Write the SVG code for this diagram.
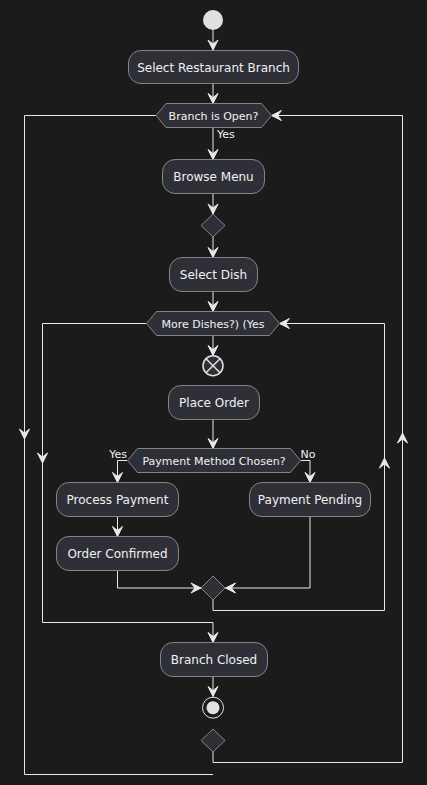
<svg xmlns="http://www.w3.org/2000/svg" xmlns:xlink="http://www.w3.org/1999/xlink" width="427" height="785" viewBox="0 0 427 785">
<style>
.bg{fill:#1b1b1b}
.box{fill:#2f3037;stroke:#858585;stroke-width:1}
.dia{fill:#2f3037;stroke:#858585;stroke-width:1}
.t{font-family:"DejaVu Sans",sans-serif;font-size:12px;fill:#f0f0f0;text-anchor:middle}
.ts{font-family:"DejaVu Sans",sans-serif;font-size:11px;fill:#f0f0f0;text-anchor:middle}
.lbl{font-family:"DejaVu Sans",sans-serif;font-size:11px;fill:#f0f0f0}
.ln{fill:none;stroke:#e8e8e8;stroke-width:1}
.ah{fill:#e8e8e8;stroke:#e8e8e8;stroke-width:1;stroke-linejoin:miter}
</style>
<defs>
<path id="ah" d="M0,0 L-5,-10 L0,-6 L5,-10 Z"/>
</defs>
<rect class="bg" x="0" y="0" width="427" height="785"/>
<g id="connectors">
<path class="ln" d="M213,30 V50"/>
<path class="ln" d="M213,83.5 V103.5"/>
<path class="ln" d="M213,127.5 V159.5"/>
<path class="ln" d="M213,193.5 V214"/>
<path class="ln" d="M213,237 V257.5"/>
<path class="ln" d="M213,291.5 V311.5"/>
<path class="ln" d="M213,335.5 V355.5"/>
<path class="ln" d="M213,419.5 V448.5"/>
<path class="ln" d="M127.5,460.5 H117.5 V482.5"/>
<path class="ln" d="M300.5,460.5 H310 V482.5"/>
<path class="ln" d="M117.5,516.5 V536.5"/>
<path class="ln" d="M117.5,570.5 V588 H201"/>
<path class="ln" d="M310,516.5 V588 H225.5"/>
<path class="ln" d="M213,600 V610.5 H384.5 V323.5 H279.5"/>
<path class="ln" d="M146.5,323.5 H42.5 V622.5 H213 V642.5"/>
<path class="ln" d="M213,676.5 V696.5"/>
<path class="ln" d="M213,752 V762.5 H402.5 V115.5 H271.5"/>
<path class="ln" d="M156,115.5 H24.5 V774.5 H213"/>
<g class="ah">
<use xlink:href="#ah" href="#ah" transform="translate(213,50)"/>
<use xlink:href="#ah" href="#ah" transform="translate(213,103.5)"/>
<use xlink:href="#ah" href="#ah" transform="translate(213,159.5)"/>
<use xlink:href="#ah" href="#ah" transform="translate(213,214)"/>
<use xlink:href="#ah" href="#ah" transform="translate(213,257.5)"/>
<use xlink:href="#ah" href="#ah" transform="translate(213,311.5)"/>
<use xlink:href="#ah" href="#ah" transform="translate(213,355.5)"/>
<use xlink:href="#ah" href="#ah" transform="translate(213,448.5)"/>
<use xlink:href="#ah" href="#ah" transform="translate(117.5,482.5)"/>
<use xlink:href="#ah" href="#ah" transform="translate(310,482.5)"/>
<use xlink:href="#ah" href="#ah" transform="translate(117.5,536.5)"/>
<use xlink:href="#ah" href="#ah" transform="translate(201,588) rotate(-90)"/>
<use xlink:href="#ah" href="#ah" transform="translate(225.5,588) rotate(90)"/>
<use xlink:href="#ah" href="#ah" transform="translate(279.5,323.5) rotate(90)"/>
<use xlink:href="#ah" href="#ah" transform="translate(384.5,458) rotate(180)"/>
<use xlink:href="#ah" href="#ah" transform="translate(42.5,463)"/>
<use xlink:href="#ah" href="#ah" transform="translate(213,642.5)"/>
<use xlink:href="#ah" href="#ah" transform="translate(213,696.5)"/>
<use xlink:href="#ah" href="#ah" transform="translate(271.5,115.5) rotate(90)"/>
<use xlink:href="#ah" href="#ah" transform="translate(402.5,433) rotate(180)"/>
<use xlink:href="#ah" href="#ah" transform="translate(24.5,439)"/>
</g>
<text class="lbl" x="217" y="137.5">Yes</text>
<text class="lbl" x="127" y="458" text-anchor="end">Yes</text>
<text class="lbl" x="300.5" y="458">No</text>
</g>
<g id="start"><circle cx="213" cy="20" r="10" fill="#e0e0e0"/></g>
<g id="selectBranch"><rect class="box" x="128.5" y="50.5" width="170" height="33" rx="12.5"/><text class="t" x="213.5" y="71.5">Select Restaurant Branch</text></g>
<g id="branchOpen"><polygon class="dia" points="156,115.5 166,103.5 261.5,103.5 271.5,115.5 261.5,127.5 166,127.5"/><text class="ts" x="213.5" y="119.5">Branch is Open?</text></g>
<g id="browseMenu"><rect class="box" x="162.5" y="159.5" width="102" height="34" rx="12.5"/><text class="t" x="213.5" y="181">Browse Menu</text></g>
<g id="merge1"><polygon class="dia" points="213,214 225,225.5 213,237 201,225.5"/></g>
<g id="selectDish"><rect class="box" x="169.5" y="257.5" width="88" height="34" rx="12.5"/><text class="t" x="213.5" y="279">Select Dish</text></g>
<g id="moreDishes"><polygon class="dia" points="146.5,323.5 156.5,311.5 269.5,311.5 279.5,323.5 269.5,335.5 156.5,335.5"/><text class="ts" x="213" y="327.5">More Dishes?) (Yes</text></g>
<g id="stopX"><circle cx="213" cy="365.7" r="10" fill="#2f3037" stroke="#e0e0e0" stroke-width="1.5"/><path d="M206,358.7 L220,372.7 M220,358.7 L206,372.7" stroke="#e0e0e0" stroke-width="1.5"/></g>
<g id="placeOrder"><rect class="box" x="168.5" y="385.5" width="91" height="34" rx="12.5"/><text class="t" x="214" y="407">Place Order</text></g>
<g id="paymentChosen"><polygon class="dia" points="127.5,460.5 137.5,448.5 290.5,448.5 300.5,460.5 290.5,472.5 137.5,472.5"/><text class="ts" x="214" y="464.5">Payment Method Chosen?</text></g>
<g id="processPayment"><rect class="box" x="56.5" y="482.5" width="122" height="34" rx="12.5"/><text class="t" x="117.5" y="504">Process Payment</text></g>
<g id="paymentPending"><rect class="box" x="249.5" y="482.5" width="121" height="34" rx="12.5"/><text class="t" x="310" y="504">Payment Pending</text></g>
<g id="orderConfirmed"><rect class="box" x="56.5" y="536.5" width="122" height="34" rx="12.5"/><text class="t" x="117.5" y="558">Order Confirmed</text></g>
<g id="merge2"><polygon class="dia" points="213,576 225,588 213,600 201,588"/></g>
<g id="branchClosed"><rect class="box" x="160.5" y="642.5" width="107" height="34" rx="12.5"/><text class="t" x="214" y="664">Branch Closed</text></g>
<g id="end"><circle cx="213" cy="707.7" r="10.5" fill="none" stroke="#e0e0e0" stroke-width="1"/><circle cx="213" cy="707.7" r="6.5" fill="#e0e0e0"/></g>
<g id="merge3"><polygon class="dia" points="213,729 225,740.5 213,752 201,740.5"/></g>
</svg>
